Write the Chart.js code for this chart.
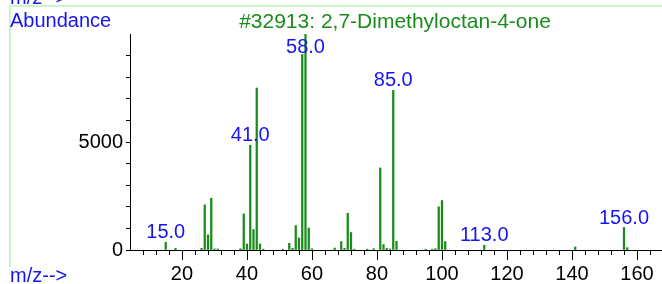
<!DOCTYPE html>
<html>
<head>
<meta charset="utf-8">
<script src="https://cdn.jsdelivr.net/npm/chart.js@4.4.1/dist/chart.umd.min.js"></script>
<style>
  html, body { margin: 0; padding: 0; background: #fff; }
  #wrap { width: 662px; height: 284px; }
</style>
</head>
<body>
<div id="wrap"><canvas id="chart" width="662" height="284"></canvas></div>
<script>
// peaks
const mz = [15, 18, 26, 27, 28, 29, 30, 31, 38, 39, 40, 41, 42, 43, 44, 45, 51, 53, 54, 55, 56, 57, 58, 59, 60,
            67, 69, 70, 71, 72, 73, 77, 79, 81, 82, 83, 84, 85, 86, 95, 97, 98, 99, 100, 101, 113, 141, 156, 157];
const abundance = [360, 80, 80, 2090, 700, 2400, 50, 50, 60, 1670, 280, 4850, 950, 7500, 280, 40, 40, 310, 80, 1130, 560, 9050, 9999, 1020, 60,
                   90, 390, 80, 1700, 810, 40, 40, 60, 3800, 250, 80, 50, 7390, 400, 40, 40, 60, 2000, 2290, 390, 220, 140, 1040, 110];
const labelledPeaks = [15, 41, 58, 85, 113, 156];
const yTickLabels = [0, 5000];
const xTickLabels = [20, 40, 60, 80, 100, 120, 140, 160];
const titleText = '#32913: 2,7-Dimethyloctan-4-one';

const FONT = "'Liberation Sans', Arial, Helvetica, sans-serif";
const GREEN = '#1a8c1a';
const BLUE = '#1515f0';

const deco = {
  id: 'deco',
  beforeDraw(chart) {
    const ctx = chart.ctx;
    ctx.save();
    ctx.strokeStyle = '#b8f2b8';
    ctx.lineWidth = 1.5;
    ctx.beginPath();
    ctx.moveTo(10, 267); ctx.lineTo(10, 6); ctx.lineTo(662, 6);
    ctx.stroke();
    ctx.restore();
  },
  afterDraw(chart) {
    const ctx = chart.ctx, xs = chart.scales.x, ys = chart.scales.y, area = chart.chartArea;
    ctx.save();
    // x tick marks, long every 20
    ctx.strokeStyle = '#000';
    ctx.lineWidth = 1;
    for (let v = 8; v <= xs.max; v += 4) {
      const px = Math.round(xs.getPixelForValue(v)) + 0.5;
      ctx.beginPath();
      ctx.moveTo(px, area.bottom);
      ctx.lineTo(px, area.bottom + (v % 20 === 0 ? 10 : 5));
      ctx.stroke();
    }
    ctx.font = '20px ' + FONT;
    ctx.textBaseline = 'alphabetic';
    // texts
    ctx.fillStyle = BLUE;
    ctx.textAlign = 'left';
    ctx.fillText('m/z-->', 10, 4);
    ctx.fillText('Abundance', 10, 27);
    ctx.fillText('m/z-->', 10, 282);
    ctx.fillStyle = GREEN;
    ctx.textAlign = 'center';
    ctx.font = '21px ' + FONT;
    ctx.fillText(titleText, 395, 28);
    // peak labels
    ctx.font = '20px ' + FONT;
    ctx.fillStyle = BLUE;
    labelledPeaks.forEach(m => {
      const v = abundance[mz.indexOf(m)];
      const py = Math.max(ys.getPixelForValue(v) - 4, 53);
      ctx.fillText(m.toFixed(1), xs.getPixelForValue(m), py);
    });
    ctx.restore();
  }
};

new Chart(document.getElementById('chart'), {
  type: 'bar',
  data: {
    datasets: [{
      data: mz.map((m, i) => ({ x: m, y: abundance[i] })),
      backgroundColor: GREEN,
      barThickness: 1.6,
      borderWidth: 0
    }]
  },
  options: {
    responsive: false,
    animation: false,
    devicePixelRatio: 1,
    layout: { padding: { top: 34, right: 0, bottom: 0, left: 0 } },
    plugins: { legend: { display: false }, tooltip: { enabled: false }, title: { display: false } },
    scales: {
      x: {
        type: 'linear', min: 4, max: 167.7, offset: false,
        afterFit: s => { s.height = 34; },
        ticks: {
          stepSize: 4, includeBounds: false, autoSkip: false, maxRotation: 0, padding: 12,
          callback: v => xTickLabels.includes(v) ? String(v) : '',
          font: { family: FONT, size: 20 }, color: '#000'
        },
        grid: { display: true, drawOnChartArea: false, drawTicks: false },
        border: { display: true, color: '#000', width: 1 }
      },
      y: {
        min: 0, max: 10000,
        afterFit: s => { s.width = 130; },
        ticks: {
          stepSize: 1000, autoSkip: false, padding: 3,
          callback: v => yTickLabels.includes(v) ? String(v) : '',
          font: { family: FONT, size: 20 }, color: '#000'
        },
        grid: {
          display: true, drawOnChartArea: false, drawTicks: true, tickLength: 4,
          tickColor: c => (c.tick && c.tick.value >= 10000) ? 'rgba(0,0,0,0)' : '#000'
        },
        border: { display: true, color: '#000', width: 1 }
      }
    }
  },
  plugins: [deco]
});
</script>
</body>
</html>
